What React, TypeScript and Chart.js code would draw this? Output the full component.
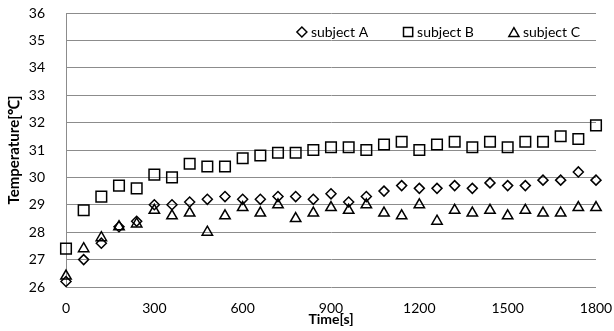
import React, { useEffect, useRef } from "react";
import { Chart, registerables } from "chart.js";
import { drawPoint } from "chart.js/helpers";

Chart.register(...registerables);

const times = [0, 60, 120, 180, 240, 300, 360, 420, 480, 540, 600, 660, 720, 780, 840, 900, 960, 1020, 1080, 1140, 1200, 1260, 1320, 1380, 1440, 1500, 1560, 1620, 1680, 1740, 1800];
const subjectA = [26.2, 27.0, 27.6, 28.2, 28.4, 29.0, 29.0, 29.1, 29.2, 29.3, 29.2, 29.2, 29.3, 29.3, 29.2, 29.4, 29.1, 29.3, 29.5, 29.7, 29.6, 29.6, 29.7, 29.6, 29.8, 29.7, 29.7, 29.9, 29.9, 30.2, 29.9];
const subjectB = [27.4, 28.8, 29.3, 29.7, 29.6, 30.1, 30.0, 30.5, 30.4, 30.4, 30.7, 30.8, 30.9, 30.9, 31.0, 31.1, 31.1, 31.0, 31.2, 31.3, 31.0, 31.2, 31.3, 31.1, 31.3, 31.1, 31.3, 31.3, 31.5, 31.4, 31.9];
const subjectC = [26.4, 27.4, 27.8, 28.2, 28.3, 28.8, 28.6, 28.7, 28.0, 28.6, 28.9, 28.7, 29.0, 28.5, 28.7, 28.9, 28.8, 29.0, 28.7, 28.6, 29.0, 28.4, 28.8, 28.7, 28.8, 28.6, 28.8, 28.7, 28.7, 28.9, 28.9];
const seriesLabels = ["subject A", "subject B", "subject C"];
const xAxisTitle = "Time[s]";
const yAxisTitle = "Temperature[℃]";

const FONT = "Lato";
const GRID = "#8c8c8c";

const insideLegend = {
  id: "insideLegend",
  afterDraw(chart: any) {
    const ctx = chart.ctx;
    const area = chart.chartArea;
    ctx.save();
    ctx.font = `14px ${FONT}`;
    ctx.textBaseline = "middle";
    ctx.textAlign = "left";
    const y = area.top + 19;
    const markerW = 10;
    const markerGap = 4;
    const itemGap = 35;
    let x = area.right - 16;
    const ds = chart.data.datasets;
    for (let i = ds.length - 1; i >= 0; i--) {
      const d = ds[i];
      const w = ctx.measureText(d.label).width;
      x -= w;
      ctx.fillStyle = "#000";
      ctx.fillText(d.label, x, y);
      x -= markerGap + markerW / 2;
      ctx.strokeStyle = "#000";
      ctx.fillStyle = "rgba(0,0,0,0)";
      ctx.lineWidth = 1.5;
      const r = d.pointStyle === "rect" ? 6.5 : d.pointStyle === "triangle" ? 5.8 : 5;
      const yy = d.pointStyle === "triangle" ? y + 1.5 : y;
      drawPoint(ctx, { pointStyle: d.pointStyle, radius: r, rotation: 0, borderWidth: 1.5 }, x, yy);
      x -= markerW / 2 + itemGap;
    }
    ctx.restore();
  },
};

function toPoints(vals: number[]) {
  return vals.map((v, i) => ({ x: times[i], y: v }));
}

export default function App() {
  const ref = useRef<HTMLCanvasElement>(null);
  useEffect(() => {
    if (!ref.current) return;
    const common = {
      showLine: false,
      clip: false,
      backgroundColor: "rgba(0,0,0,0)",
      borderColor: "#000",
      pointBorderWidth: 1.5,
      pointHoverRadius: 6,
    };
    const chart = new Chart(ref.current, {
      type: "scatter",
      data: {
        datasets: [
          { ...common, label: seriesLabels[0], data: toPoints(subjectA), pointStyle: "rectRot", pointRadius: 5 },
          { ...common, label: seriesLabels[1], data: toPoints(subjectB), pointStyle: "rect", pointRadius: 7.5 },
          { ...common, label: seriesLabels[2], data: toPoints(subjectC), pointStyle: "triangle", pointRadius: 6 },
        ],
      },
      options: {
        responsive: false,
        animation: false,
        devicePixelRatio: 1,
        layout: { padding: { top: 13, right: 18, left: 0, bottom: 0 } },
        plugins: { legend: { display: false }, tooltip: { enabled: false } },
        scales: {
          x: {
            type: "linear",
            min: 0,
            max: 1800,
            ticks: { stepSize: 300, color: "#000", font: { family: FONT, size: 14 }, padding: 13, callback: (v: any) => String(v) },
            grid: { display: false, drawTicks: false },
            border: { display: false },
            title: { display: true, text: xAxisTitle, color: "#000", font: { family: FONT, size: 14, weight: "bold" }, padding: { top: 0, bottom: 3 } },
            afterFit: (s: any) => { s.height = 44; s.paddingLeft = 0; s.paddingRight = 0; },
          },
          y: {
            min: 26,
            max: 36,
            ticks: { stepSize: 1, color: "#000", font: { family: FONT, size: 14 }, padding: 21, callback: (v: any) => String(v) },
            grid: { color: GRID, lineWidth: 1, drawTicks: false },
            border: { display: true, color: GRID, width: 1 },
            title: { display: true, text: yAxisTitle, color: "#000", font: { family: FONT, size: 15, weight: "bold" }, padding: { top: 5, bottom: 0 } },
            afterFit: (s: any) => { s.width = 66; s.paddingTop = 0; s.paddingBottom = 0; },
          },
        },
      },
      plugins: [insideLegend],
    } as any);
    return () => chart.destroy();
  }, []);
  return (
    <div style={{ position: "fixed", left: 0, top: 0, width: 614, height: 331, background: "#fff" }}>
      <canvas ref={ref} width={614} height={331} />
    </div>
  );
}
